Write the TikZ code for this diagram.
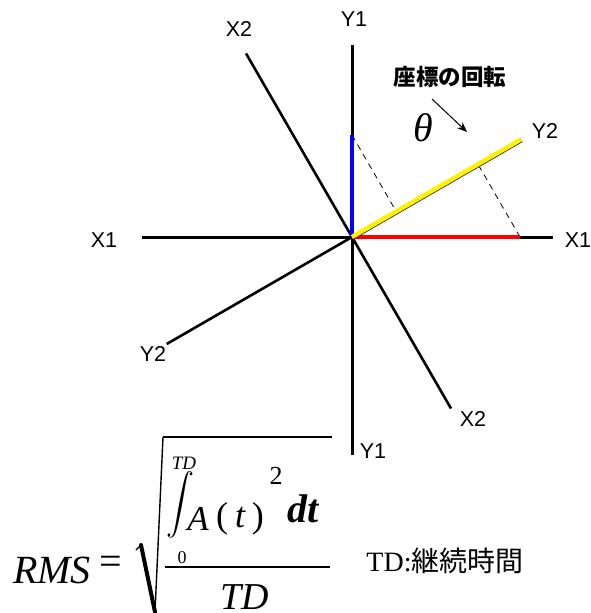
\documentclass[tikz,border=0pt]{standalone}
\usepackage{fontspec}
\setmainfont{Liberation Serif}
\newfontfamily\labfont{Liberation Sans}
\newfontfamily\cjk{Noto Sans CJK JP}
\usetikzlibrary{arrows.meta}
\begin{document}
\begin{tikzpicture}[x=1pt,y=-1pt,
  axisline/.style={line width=3pt,black},
  rotline/.style={line width=2.6pt,black},
  lab/.style={inner sep=0pt,font=\labfont\fontsize{21.5}{22}\selectfont},
  dashline/.style={line width=0.8pt,dash pattern=on 6pt off 5pt},
  mathtxt/.style={inner sep=0pt,anchor=base}]
\useasboundingbox (0,0) rectangle (590,613);
% coordinates
\coordinate (O) at (352,237);
\coordinate (y1t) at (352,45);
\coordinate (y1b) at (352,455);
\coordinate (x1l) at (142,237);
\coordinate (x1r) at (553,237);
\coordinate (x2t) at (246,53.4);
\coordinate (x2b) at (451,408.5);
\coordinate (y2r) at (521,139.5);
\coordinate (y2l) at (166.7,344);
\coordinate (redend) at (520,237);
\coordinate (blueend) at (352,135);
\coordinate (pb) at (396.2,211.5);
\coordinate (pr) at (478,164.2);
% axes
\draw[axisline] (y1t) -- (y1b);
\draw[axisline] (x1l) -- (x1r);
\draw[rotline] (x2t) -- (x2b);
\draw[rotline] (y2l) -- (y2r);
% components
\draw[dashline] (blueend) -- (pb);
\draw[dashline] (redend) -- (pr);
\draw[line width=4pt,red] (O) -- (redend);
\draw[line width=4.5pt,blue] (O) -- (blueend);
\draw[line width=2pt,black,transform canvas={shift={(1,1.6)}}] (O) -- (y2r);
\draw[line width=4.5pt,yellow] (O) -- (y2r);
% labels
\node[lab] (ly1t) at (354,19) {Y1};
\node[lab] (lx2t) at (239,29) {X2};
\node[lab] (lx1l) at (104,240) {X1};
\node[lab] (lx1r) at (578,240) {X1};
\node[lab] (ly2r) at (545,131) {Y2};
\node[lab] (ly2l) at (153,354) {Y2};
\node[lab] (lx2b) at (473,419) {X2};
\node[lab] (ly1b) at (373,451) {Y1};
% rotation
\node[inner sep=0pt,font=\cjk\bfseries\fontsize{22.5}{23}\selectfont] (rot) at (450,77) {座標の回転};
\node[inner sep=0pt,font=\itshape\fontsize{40}{40}\selectfont] (theta) at (423,128) {θ};
\coordinate (arra) at (432,99);
\coordinate (arrb) at (467,132);
\draw[line width=1pt,-{Stealth[length=10pt,width=8pt]}] (arra) -- (arrb);
% formula
\node[mathtxt,font=\itshape\fontsize{40}{40}\selectfont] (rms) at (52,583) {RMS};
\node[mathtxt,font=\fontsize{40}{40}\selectfont] (eq) at (111,574) {=};
\coordinate (r1) at (136,550);
\coordinate (r2) at (141,545);
\coordinate (r3) at (155,612);
\coordinate (r4) at (163,437);
\coordinate (r5) at (332,437);
\draw[line width=1.2pt] (r1) -- (r2);
\draw[line width=4pt,line cap=round] (r2) -- (r3);
\draw[line width=1.4pt] (r3) -- (r4);
\draw[line width=2.5pt] (r4) -- (r5);
\coordinate (fb1) at (165,567);
\coordinate (fb2) at (330,567);
\draw[line width=2.2pt] (fb1) -- (fb2);
\node[inner sep=0pt,xscale=2.8,yscale=3.0] (int) at (180,505) {$\displaystyle\int$};
\node[inner sep=0pt,font=\itshape\fontsize{19}{19}\selectfont] (ut) at (184,463) {TD};
\node[inner sep=0pt,font=\fontsize{18}{18}\selectfont] (lz) at (182,558) {0};
\node[mathtxt,font=\itshape\fontsize{35}{35}\selectfont] (A) at (198,530) {A};
\node[mathtxt,font=\fontsize{36}{36}\selectfont] (tt) at (240,527) {(\hspace{7pt}\textit{t}\hspace{6pt})};
\node[inner sep=0pt,font=\fontsize{26}{26}\selectfont] (sq) at (276,476) {2};
\node[mathtxt,font=\bfseries\itshape\fontsize{40}{40}\selectfont] (dt) at (303,522) {dt};
\node[mathtxt,font=\itshape\fontsize{38}{38}\selectfont] (den) at (245,609) {TD};
\node[inner sep=0pt,font=\fontsize{28}{28}\selectfont] (td) at (445,561) {TD:{\cjk 継続時間}};
\end{tikzpicture}
\end{document}
